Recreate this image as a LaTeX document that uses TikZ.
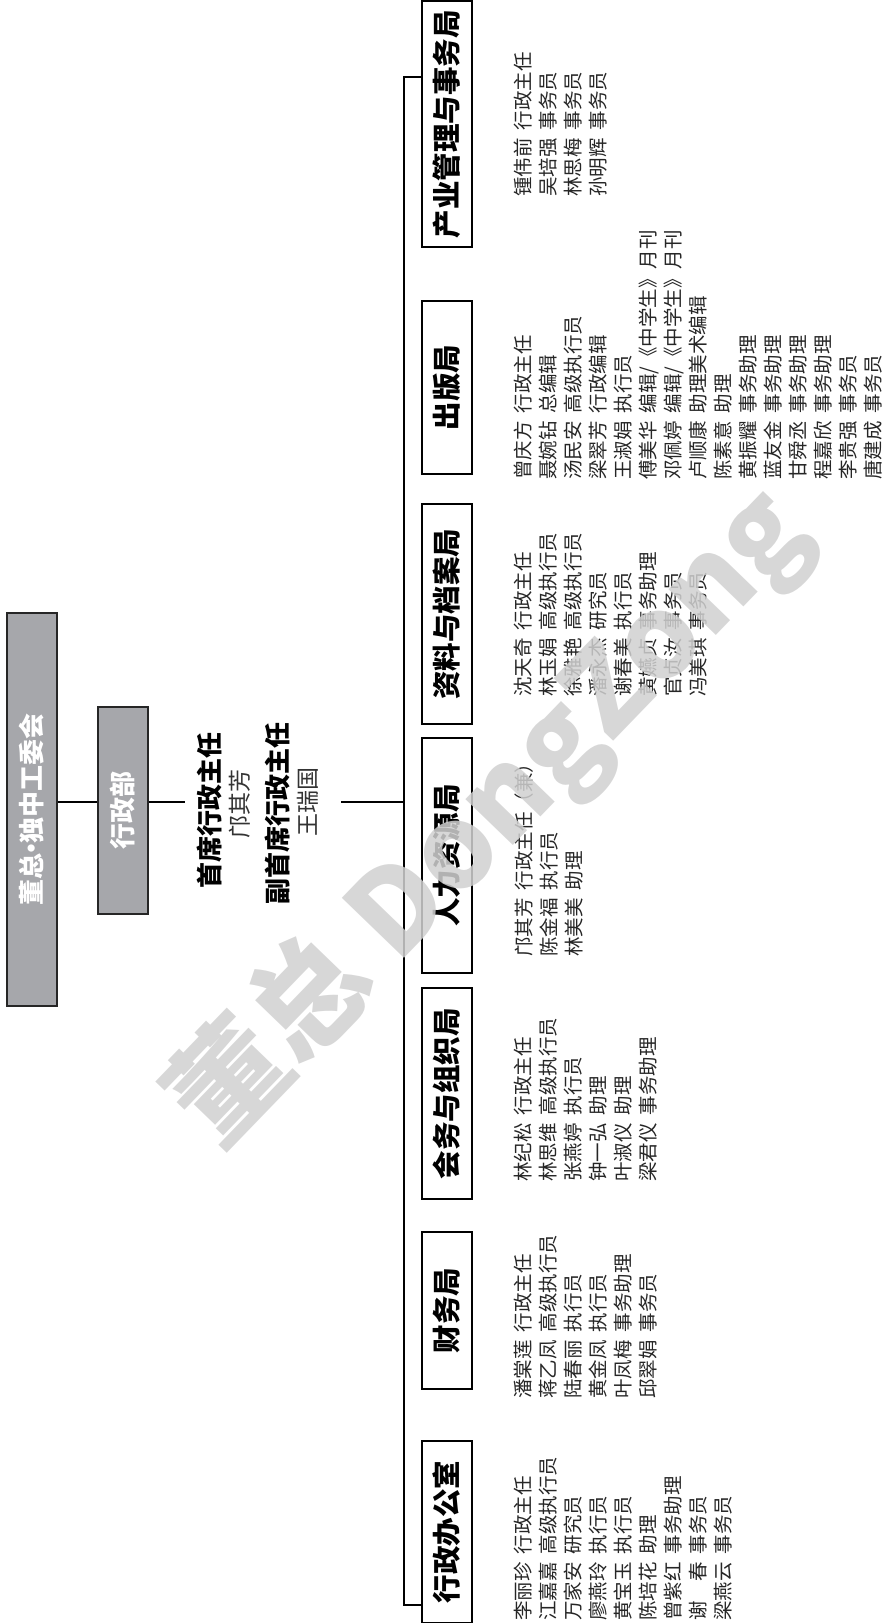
\documentclass[tikz,border=0pt]{standalone}
\usepackage{fontspec}
\newfontfamily\cjk{Noto Sans CJK SC}
\usepackage{tikz}
\usetikzlibrary{positioning}

\definecolor{boxgrey}{HTML}{A6A7AB}
\definecolor{markgrey}{HTML}{D0D0D0}

\tikzset{
	topbox/.style={draw=black!85, fill=boxgrey, text=white, rotate=90, inner sep=0pt, minimum height=25pt, line width=0.7pt, font=\cjk\bfseries\fontsize{13}{13}\selectfont},
	deptbox/.style={draw, rotate=90, inner sep=0pt, minimum height=25pt, line width=0.7pt, font=\cjk\bfseries\fontsize{14.25}{14.25}\selectfont},
	stafflist/.style={rotate=90, anchor=north west, align=left, inner sep=0pt, text=black!85, font=\cjk\fontsize{9.75}{12.5}\selectfont},
	chieftitle/.style={rotate=90, inner sep=0pt, font=\cjk\bfseries\fontsize{13}{13}\selectfont},
	chiefname/.style={rotate=90, inner sep=0pt, text=black!80, font=\cjk\fontsize{11.5}{11.5}\selectfont},
	link/.style={line width=0.7pt}
}
\newcommand{\staffrow}[2]{#1\hspace{0.4em}#2}

\begin{document}
\begin{tikzpicture}[x=0.5pt, y=-0.5pt]
		\useasboundingbox (0,0) rectangle (885,1623);
		%\matrix would not rotate well, so the boxes sit at coordinates
		\node[topbox, minimum width=196.5pt] (dz) at (32,809.5) {董总\kern-0.3em·\kern-0.3em独中工委会};
		\node[topbox, minimum width=103.5pt] (xzb) at (123,810.5) {行政部};
		
		\node[chieftitle] (chief) at (209,810) {首席行政主任};
		\node[chiefname] (chiefn) at (240,804) {邝其芳};
		\node[chieftitle] (deputy) at (277,813) {副首席行政主任};
		\node[chiefname] (deputyn) at (308,802) {王瑞国};
		
		\node[deptbox, minimum width=123pt] (b1) at (447,124) {产业管理与事务局};
		\node[deptbox, minimum width=86.5pt] (b2) at (447,387.5) {出版局};
		\node[deptbox, minimum width=110pt] (b3) at (447,614) {资料与档案局};
		\node[deptbox, minimum width=117.5pt] (b4) at (447,855.5) {人力资源局};
		\node[deptbox, minimum width=105.5pt] (b5) at (447,1093.5) {会务与组织局};
		\node[deptbox, minimum width=78.5pt] (b6) at (447,1310.5) {财务局};
		\node[deptbox, minimum width=91pt] (b7) at (447,1532) {行政办公室};
		
		\coordinate (midL) at (185,802);
		\coordinate (midR) at (341,802);
		\coordinate (hub) at (404,802);
		\coordinate (bustop) at (404,77);
		\coordinate (busbot) at (404,1605);
		
		\path[link]
		(dz.south |- hub) edge (xzb.north |- hub)
		(xzb.south |- hub) edge (midL)
		(midR) edge (hub);
		\draw[link] (b1.north |- bustop) -- (bustop) -- (busbot) -- (b7.north |- busbot);
		
		%staff lists, first line leftmost
		\node[stafflist] (l1) at (514,197) {\staffrow{锺伟前}{行政主任}\\ \staffrow{吴培强}{事务员}\\ \staffrow{林思梅}{事务员}\\ \staffrow{孙明辉}{事务员}};
		\node[stafflist] (l2) at (514,480) {\staffrow{曾庆方}{行政主任}\\ \staffrow{聂婉钻}{总编辑}\\ \staffrow{汤民安}{高级执行员}\\ \staffrow{梁翠芳}{行政编辑}\\ \staffrow{王淑娟}{执行员}\\ \staffrow{傅美华}{编辑/《中学生》月刊}\\ \staffrow{邓佩婷}{编辑/《中学生》月刊}\\ \staffrow{卢顺康}{助理美术编辑}\\ \staffrow{陈素意}{助理}\\ \staffrow{黄振耀}{事务助理}\\ \staffrow{蓝友金}{事务助理}\\ \staffrow{甘舜丞}{事务助理}\\ \staffrow{程嘉欣}{事务助理}\\ \staffrow{李贵强}{事务员}\\ \staffrow{唐建成}{事务员}};
		\node[stafflist] (l3) at (514,697) {\staffrow{沈天奇}{行政主任}\\ \staffrow{林玉娟}{高级执行员}\\ \staffrow{徐雅艳}{高级执行员}\\ \staffrow{潘永杰}{研究员}\\ \staffrow{谢春美}{执行员}\\ \staffrow{黄嬿贞}{事务助理}\\ \staffrow{官贞汝}{事务员}\\ \staffrow{冯美琪}{事务员}};
		\node[stafflist] (l4) at (514,957) {\staffrow{邝其芳}{行政主任（兼）}\\ \staffrow{陈金福}{执行员}\\ \staffrow{林美美}{助理}};
		\node[stafflist] (l5) at (514,1182) {\staffrow{林纪松}{行政主任}\\ \staffrow{林思维}{高级执行员}\\ \staffrow{张燕婷}{执行员}\\ \staffrow{钟一弘}{助理}\\ \staffrow{叶淑仪}{助理}\\ \staffrow{梁君仪}{事务助理}};
		\node[stafflist] (l6) at (514,1399) {\staffrow{潘棠莲}{行政主任}\\ \staffrow{蒋乙凤}{高级执行员}\\ \staffrow{陆春丽}{执行员}\\ \staffrow{黄金凤}{执行员}\\ \staffrow{叶凤梅}{事务助理}\\ \staffrow{邱翠娟}{事务员}};
		\node[stafflist] (l7) at (514,1621) {\staffrow{李丽珍}{行政主任}\\ \staffrow{江嘉嘉}{高级执行员}\\ \staffrow{万家安}{研究员}\\ \staffrow{廖燕玲}{执行员}\\ \staffrow{黄宝玉}{执行员}\\ \staffrow{陈培花}{助理}\\ \staffrow{曾紫红}{事务助理}\\ \staffrow{谢　春}{事务员}\\ \staffrow{梁燕云}{事务员}};
		
		%watermark
		\node[rotate=46, text=markgrey, text opacity=0.85, font=\cjk\bfseries\fontsize{58}{58}\selectfont] (mark) at (490,818) {董总 DongZong};
		\end{tikzpicture}
\end{document}
